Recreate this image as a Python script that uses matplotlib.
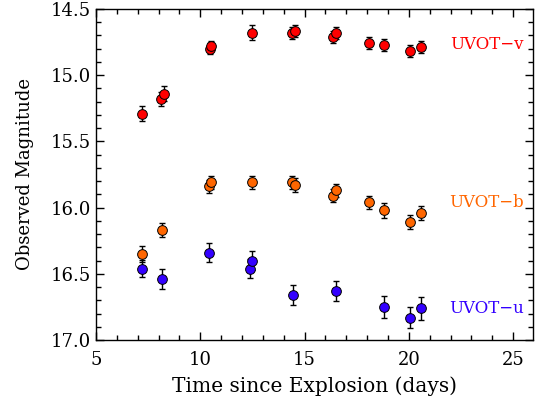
import matplotlib
matplotlib.use("Agg")
import matplotlib.pyplot as plt
from matplotlib.ticker import MultipleLocator, FormatStrFormatter

plt.rcParams['font.family'] = ['DejaVu Serif']

# UVOT-v
v_t = [7.22, 8.10, 8.26, 10.45, 10.50, 12.50, 14.40, 14.52, 16.35, 16.50, 18.09, 18.81, 20.06, 20.60]
v_m = [15.29, 15.18, 15.14, 14.80, 14.78, 14.68, 14.68, 14.67, 14.71, 14.68, 14.76, 14.77, 14.82, 14.79]
v_e = [0.055, 0.055, 0.055, 0.04, 0.04, 0.055, 0.045, 0.045, 0.045, 0.045, 0.045, 0.045, 0.045, 0.045]

# UVOT-b
b_t = [7.19, 8.18, 10.42, 10.52, 12.50, 14.42, 14.54, 16.37, 16.50, 18.09, 18.81, 20.06, 20.60]
b_m = [16.35, 16.17, 15.84, 15.81, 15.81, 15.81, 15.83, 15.91, 15.87, 15.96, 16.02, 16.11, 16.04]
b_e = [0.06, 0.055, 0.05, 0.05, 0.05, 0.05, 0.05, 0.05, 0.05, 0.05, 0.055, 0.055, 0.055]

# UVOT-u
u_t = [7.19, 8.18, 10.42, 12.40, 12.50, 14.45, 16.50, 18.81, 20.06, 20.60]
u_m = [16.46, 16.54, 16.34, 16.46, 16.40, 16.66, 16.63, 16.75, 16.83, 16.76]
u_e = [0.065, 0.075, 0.07, 0.07, 0.07, 0.078, 0.078, 0.08, 0.08, 0.085]

series = [
    ("UVOT\u2212v", v_t, v_m, v_e, "#ff0000", 14.77),
    ("UVOT\u2212b", b_t, b_m, b_e, "#ff6600", 15.96),
    ("UVOT\u2212u", u_t, u_m, u_e, "#3300ff", 16.76),
]

fig = plt.figure(figsize=(5.41, 4.03), dpi=100)
ax = fig.add_axes([0.1775, 0.156, 0.8075, 0.822])

for name, t, m, e, c, ly in series:
    ax.errorbar(t, m, yerr=e, fmt='none', ecolor='black', elinewidth=1.0,
                capsize=2, capthick=1.0, zorder=2)
    ax.plot(t, m, 'o', color=c, markeredgecolor='black', markeredgewidth=0.7,
            markersize=7, zorder=3, linestyle='none')
    ax.text(25.5, ly, name, color=c, fontsize=12, ha='right', va='center')

ax.set_xlim(5, 25.95)
ax.set_ylim(17.0, 14.5)
ax.xaxis.set_major_locator(MultipleLocator(5))
ax.xaxis.set_minor_locator(MultipleLocator(1))
ax.yaxis.set_major_locator(MultipleLocator(0.5))
ax.yaxis.set_minor_locator(MultipleLocator(0.1))
ax.yaxis.set_major_formatter(FormatStrFormatter('%.1f'))
ax.tick_params(which='both', direction='in', top=True, right=True, labelsize=13)
ax.tick_params(axis='x', which='major', pad=8)
ax.tick_params(which='major', length=6, width=1)
ax.tick_params(which='minor', length=3.6, width=1)
for s in ax.spines.values():
    s.set_linewidth(1.0)

ax.set_xlabel("Time since Explosion (days)", fontsize=14.5, labelpad=5)
ax.set_ylabel("Observed Magnitude", fontsize=13, labelpad=12)

fig.savefig("out.png", dpi=100)
